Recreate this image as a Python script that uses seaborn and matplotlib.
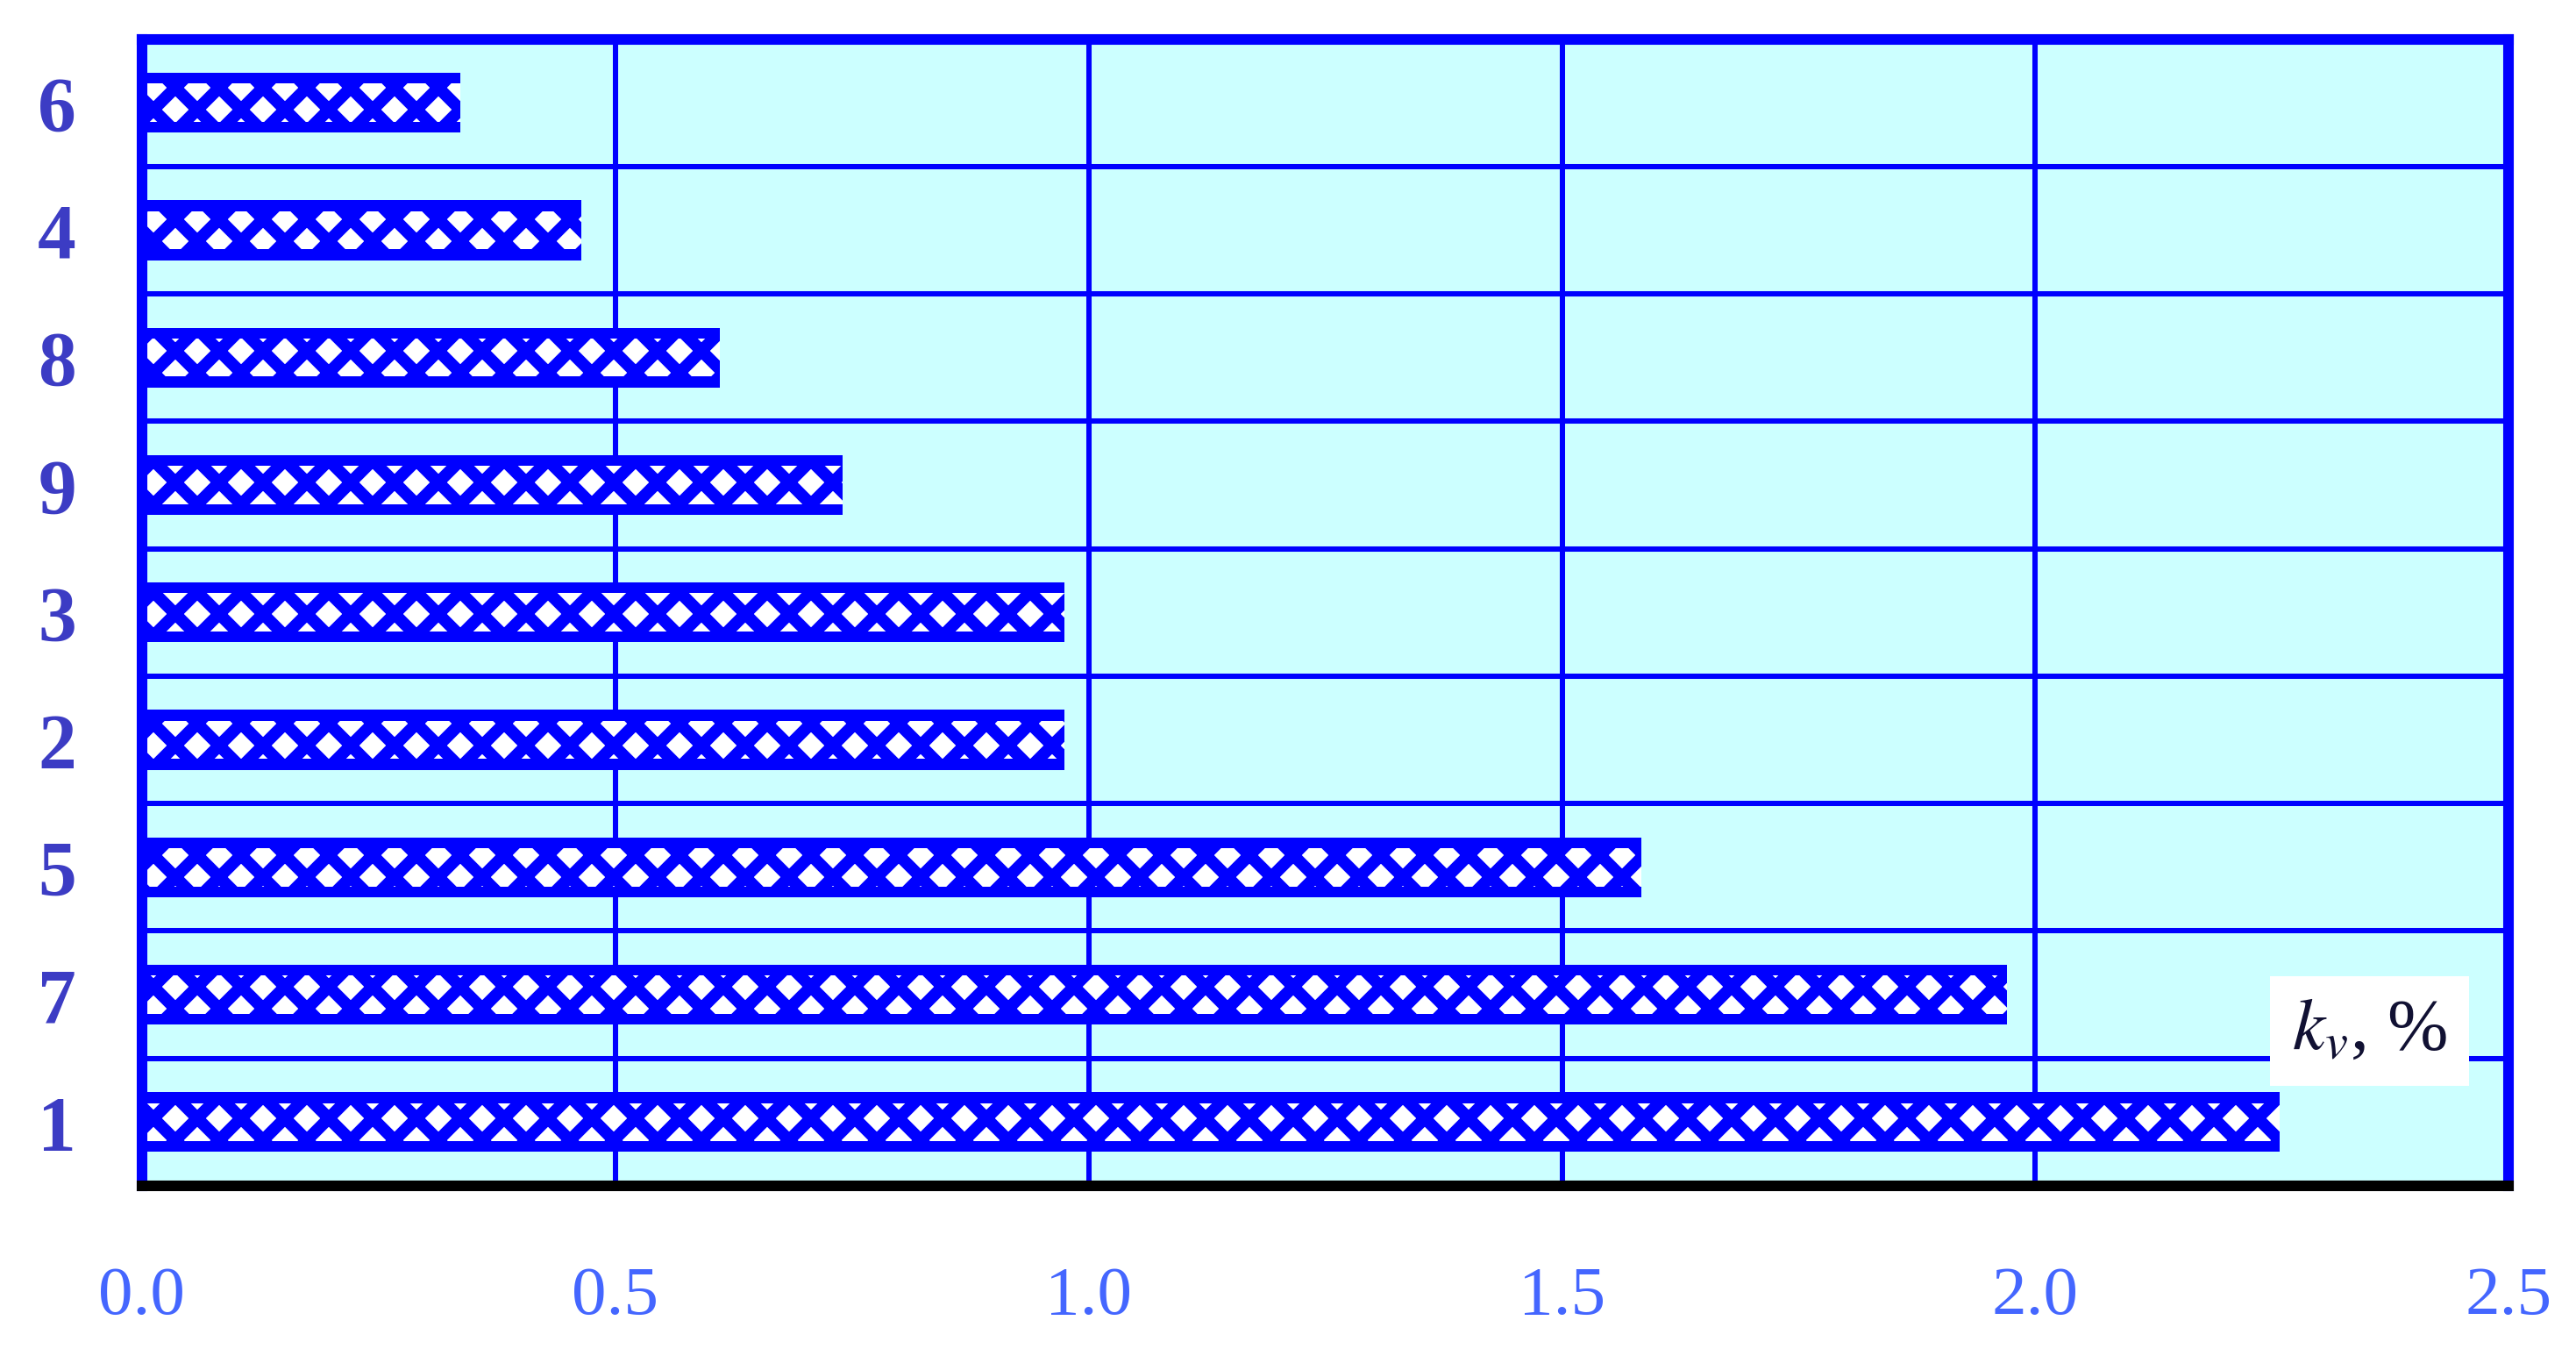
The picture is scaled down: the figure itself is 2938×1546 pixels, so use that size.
import matplotlib
matplotlib.use('Agg')
import matplotlib.pyplot as plt
import seaborn as sns
import pandas as pd
from matplotlib.ticker import FixedLocator

# categories from top to bottom and bar lengths (k_v, %)
categories = ['6', '4', '8', '9', '3', '2', '5', '7', '1']
values = [0.336, 0.464, 0.61, 0.74, 0.974, 0.974, 1.584, 1.97, 2.258]
x_ticks = [0.0, 0.5, 1.0, 1.5, 2.0, 2.5]
x_tick_labels = ['0.0', '0.5', '1.0', '1.5', '2.0', '2.5']
unit_label = r'$k_{v}$, %'

BLUE = '#0000ff'
DPI = 300

sns.set_style('white')
plt.rcParams['font.family'] = ['Liberation Serif', 'DejaVu Serif']
plt.rcParams['mathtext.fontset'] = 'stix'
plt.rcParams['hatch.linewidth'] = 3.3

df = pd.DataFrame({'cat': categories, 'val': values})

fig = plt.figure(figsize=(2938.3 / DPI, 1546.3 / DPI), dpi=DPI)
ax = fig.add_axes([0.0551, 0.1255, 0.9187, 0.8455])
ax.set_facecolor('#ccffff')

# solid blue bar body
sns.barplot(data=df, x='val', y='cat', order=categories, orient='h',
            color=BLUE, saturation=1, width=0.47, errorbar=None,
            linewidth=0, ax=ax)
# inner patterned strip
sns.barplot(data=df, x='val', y='cat', order=categories, orient='h',
            color='white', saturation=1, width=0.30, errorbar=None,
            linewidth=0, ax=ax)
for p in ax.patches[len(categories):]:
    p.set_hatch('xx')
    p.set_edgecolor(BLUE)
    p.set_linewidth(0)

ax.set_xlim(0, 2.5)
ax.set_ylim(len(categories) - 0.5, -0.5)
ax.xaxis.set_major_locator(FixedLocator(x_ticks))
ax.set_xticklabels(x_tick_labels)
ax.yaxis.set_minor_locator(FixedLocator([i + 0.5 for i in range(len(categories) - 1)]))

ax.set_axisbelow(True)
ax.grid(axis='x', which='major', color=BLUE, linewidth=1.45)
ax.grid(axis='y', which='major', visible=False)
ax.grid(axis='y', which='minor', color=BLUE, linewidth=1.45)

ax.set_xlabel('')
ax.set_ylabel('')
ax.tick_params(axis='both', which='both', length=0)
ax.tick_params(axis='y', pad=18, labelsize=21, labelcolor='#3c3cc4')
ax.tick_params(axis='x', pad=22, labelsize=19, labelcolor='#4466ff')
for lbl in ax.get_yticklabels():
    lbl.set_fontweight('bold')

for side, s in ax.spines.items():
    s.set_visible(True)
    s.set_color(BLUE)
    s.set_linewidth(2.9)
ax.spines['bottom'].set_color('black')

ax.text(0.941, 0.135, unit_label, transform=ax.transAxes, ha='center',
        va='center', fontsize=20, color='#111133',
        bbox=dict(boxstyle='square,pad=0.3', fc='white', ec='none'))

fig.savefig('out.png', dpi=DPI)
